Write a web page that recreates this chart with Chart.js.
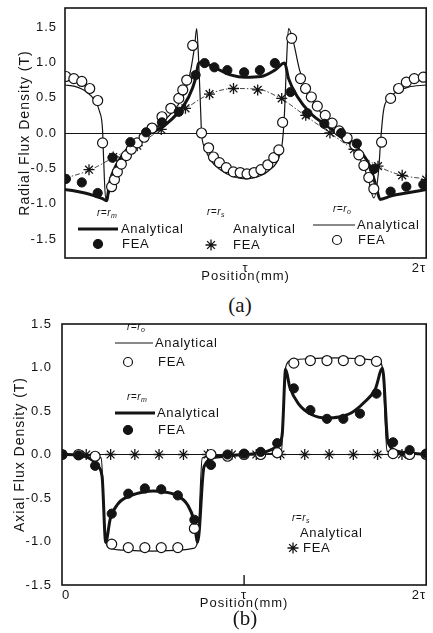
<!DOCTYPE html>
<html>
<head>
<meta charset="utf-8">
<script src="https://cdn.jsdelivr.net/npm/chart.js@4.4.1/dist/chart.umd.min.js"></script>
<style>
  html, body { margin: 0; padding: 0; background: #fff; }
  body { width: 433px; height: 633px; position: relative; overflow: hidden; }
  .panel { position: absolute; left: 0; width: 433px; }
  .caption { position: absolute; width: 60px; text-align: center; line-height: 24px;
             font-family: "Liberation Serif", "DejaVu Serif", serif; font-size: 21px; color: #141414; }
</style>
</head>
<body>
<div class="panel" style="top:0;height:292px"><canvas id="radial"></canvas></div>
<div class="caption" style="left:210px;top:293px">(a)</div>
<div class="panel" style="top:300px;height:318px"><canvas id="axial"></canvas></div>
<div class="caption" style="left:215px;top:606px">(b)</div>
<script>
// positions are in units of the pole pitch tau, flux density in tesla
const yTicks = [-1.5, -1.0, -0.5, 0.0, 0.5, 1.0, 1.5];
const xTicks = [0, 1, 2];
const xTickLabelsA = ['', 'τ', '2τ'];
const xTickLabelsB = ['0', 'τ', '2τ'];

// (a) radial flux density
const posRmLineA = [0, 0.055, 0.11, 0.164, 0.208, 0.23, 0.247, 0.285, 0.34, 0.411, 0.482, 0.548, 0.63, 0.685, 0.723, 0.74, 0.756, 0.833, 0.921, 0.997, 1.085, 1.162, 1.216, 1.238, 1.288, 1.359, 1.468, 1.55, 1.625, 1.688, 1.722, 1.745, 1.808, 1.89, 2.0];
const radRmLineA = [-0.80, -0.82, -0.85, -0.89, -0.93, -0.96, -0.70, -0.45, -0.24, -0.10, 0.01, 0.10, 0.30, 0.51, 0.77, 0.99, 1.00, 0.92, 0.82, 0.79, 0.80, 0.89, 0.99, 0.77, 0.51, 0.28, 0.07, -0.10, -0.23, -0.47, -0.75, -0.94, -0.89, -0.85, -0.80];

const posRmDotA = [0.005, 0.093, 0.181, 0.263, 0.362, 0.449, 0.537, 0.630, 0.723, 0.773, 0.827, 0.899, 0.992, 1.079, 1.162, 1.249, 1.342, 1.436, 1.529, 1.616, 1.710, 1.803, 1.890, 1.984];
const radRmDotA = [-0.65, -0.70, -0.85, -0.35, -0.13, 0.01, 0.15, 0.30, 0.82, 0.99, 0.93, 0.89, 0.86, 0.89, 0.99, 0.58, 0.28, 0.13, 0.00, -0.15, -0.51, -0.83, -0.76, -0.73];

const posRsA = [0, 0.133, 0.267, 0.4, 0.533, 0.667, 0.8, 0.933, 1.067, 1.2, 1.333, 1.467, 1.6, 1.733, 1.867, 2.0];
const radRsLineA = [-0.64, -0.53, -0.35, -0.17, 0.06, 0.34, 0.55, 0.63, 0.62, 0.48, 0.24, 0.00, -0.24, -0.47, -0.60, -0.65];
const radRsStarA = [-0.65, -0.52, -0.34, -0.18, 0.05, 0.35, 0.55, 0.63, 0.61, 0.49, 0.25, 0.00, -0.23, -0.47, -0.60, -0.66];

const posRoLineA = [0, 0.055, 0.121, 0.164, 0.192, 0.208, 0.214, 0.225, 0.247, 0.274, 0.312, 0.367, 0.438, 0.521, 0.603, 0.658, 0.696, 0.718, 0.729, 0.740, 0.751, 0.756, 0.773, 0.805, 0.860, 0.932, 1.003, 1.068, 1.134, 1.184, 1.205, 1.216, 1.227, 1.238, 1.260, 1.299, 1.342, 1.408, 1.479, 1.551, 1.605, 1.644, 1.677, 1.710, 1.737, 1.748, 1.764, 1.792, 1.836, 1.901, 2.0];
const radRoLineA = [0.68, 0.66, 0.58, 0.46, 0.30, 0.04, -0.38, -0.93, -0.83, -0.63, -0.42, -0.24, -0.08, 0.11, 0.32, 0.54, 0.89, 1.24, 1.48, 1.03, 0.32, 0.00, -0.20, -0.38, -0.52, -0.62, -0.65, -0.62, -0.52, -0.35, -0.10, 0.32, 1.03, 1.48, 1.34, 0.89, 0.58, 0.32, 0.07, -0.10, -0.24, -0.42, -0.63, -0.92, -0.52, -0.10, 0.32, 0.49, 0.58, 0.65, 0.68];

const posRoDotA = [0.005, 0.049, 0.093, 0.137, 0.181, 0.208, 0.258, 0.274, 0.290, 0.312, 0.340, 0.367, 0.400, 0.438, 0.482, 0.537, 0.586, 0.630, 0.652, 0.674, 0.707, 0.756, 0.795, 0.822, 0.855, 0.893, 0.932, 0.970, 1.008, 1.047, 1.085, 1.123, 1.156, 1.184, 1.205, 1.255, 1.304, 1.332, 1.364, 1.397, 1.441, 1.479, 1.518, 1.562, 1.605, 1.627, 1.655, 1.682, 1.710, 1.753, 1.803, 1.847, 1.890, 1.934, 1.984];
const radRoDotA = [0.80, 0.77, 0.73, 0.63, 0.46, -0.14, -0.76, -0.66, -0.55, -0.44, -0.32, -0.23, -0.14, -0.06, 0.07, 0.23, 0.35, 0.49, 0.61, 0.75, 1.24, 0.00, -0.21, -0.34, -0.42, -0.49, -0.55, -0.56, -0.58, -0.56, -0.52, -0.45, -0.35, -0.24, 0.15, 1.34, 0.77, 0.63, 0.51, 0.38, 0.25, 0.14, 0.03, -0.07, -0.17, -0.31, -0.46, -0.63, -0.79, -0.13, 0.49, 0.63, 0.72, 0.77, 0.79];

// (b) axial flux density
const posRmLineB = [0, 0.10, 0.17, 0.195, 0.22, 0.24, 0.265, 0.31, 0.38, 0.45, 0.50, 0.56, 0.63, 0.69, 0.725, 0.745, 0.78, 0.85, 1.0, 1.10, 1.17, 1.195, 1.21, 1.228, 1.25, 1.30, 1.37, 1.45, 1.52, 1.59, 1.66, 1.72, 1.76, 1.79, 1.86, 2.0];
const axRmLineB = [0, -0.01, -0.07, -0.13, -0.25, -1.01, -0.74, -0.56, -0.47, -0.43, -0.42, -0.43, -0.47, -0.58, -0.76, -1.01, -0.14, -0.03, 0, 0.02, 0.08, 0.13, 0.25, 0.98, 0.78, 0.58, 0.46, 0.42, 0.43, 0.48, 0.60, 0.75, 0.99, 0.14, 0.03, 0];

const posRoLineB = [0, 0.15, 0.215, 0.24, 0.265, 0.35, 0.50, 0.65, 0.72, 0.745, 0.77, 0.85, 1.0, 1.15, 1.205, 1.228, 1.255, 1.35, 1.50, 1.65, 1.73, 1.76, 1.785, 1.85, 2.0];
const axRoLineB = [0, -0.01, -0.04, -1.00, -1.08, -1.10, -1.11, -1.10, -1.08, -1.00, -0.04, -0.01, 0, 0.01, 0.04, 1.00, 1.08, 1.10, 1.11, 1.10, 1.08, 1.00, 0.04, 0.01, 0];

const posDotB = [0, 0.091, 0.182, 0.273, 0.364, 0.455, 0.545, 0.636, 0.727, 0.818, 0.909, 1.0, 1.091, 1.182, 1.273, 1.364, 1.455, 1.545, 1.636, 1.727, 1.818, 1.909, 2.0];
const axRmDotB = [0.00, -0.01, -0.13, -0.68, -0.45, -0.39, -0.40, -0.47, -0.75, -0.12, 0.00, 0.01, 0.03, 0.13, 0.76, 0.51, 0.41, 0.41, 0.47, 0.70, 0.14, 0.05, 0.01];
const axRoDotB = [0.00, 0.00, -0.02, -1.03, -1.07, -1.07, -1.07, -1.07, -0.85, 0.00, -0.02, 0.00, 0.00, 0.02, 1.05, 1.08, 1.08, 1.08, 1.08, 1.07, 0.01, 0.00, 0.00];

const posRsB = [0, 0.133, 0.267, 0.4, 0.533, 0.667, 0.8, 0.933, 1.067, 1.2, 1.333, 1.467, 1.6, 1.733, 1.867, 2.0];
const axRsStarB = [0, 0, 0, 0, 0, 0, 0, 0, 0, 0, 0, 0, 0, 0, 0, 0];
const posRsLineB = [0, 2];
const axRsLineB = [0, 0];

const INK = '#141414';
const FONT = '"Liberation Sans", Arial, sans-serif';

function pts(xs, ys) { return xs.map((x, i) => ({ x: x, y: ys[i] })); }

function lineSet(label, xs, ys, width, dash, color) {
  return {
    label: label, data: pts(xs, ys), showLine: true, fill: false,
    borderColor: color || INK, borderWidth: width, borderDash: dash || [],
    pointRadius: 0, cubicInterpolationMode: 'monotone'
  };
}

function markSet(label, xs, ys, kind) {
  const base = { label: label, data: pts(xs, ys), showLine: false, pointBorderColor: INK };
  if (kind === 'dot') {
    return Object.assign(base, { pointStyle: 'circle', pointRadius: 4.6, pointBackgroundColor: INK, pointBorderWidth: 1 });
  }
  if (kind === 'open') {
    return Object.assign(base, { pointStyle: 'circle', pointRadius: 5, pointBackgroundColor: '#fff', pointBorderWidth: 1.2 });
  }
  return Object.assign(base, { pointStyle: 'star', pointRadius: 5.5, pointBackgroundColor: INK, pointBorderWidth: 1.3 });
}

function drawMark(ctx, kind, x, y) {
  ctx.beginPath();
  if (kind === 'star') {
    const r = 5.5, d = r * Math.SQRT1_2;
    ctx.lineWidth = 1.3;
    ctx.moveTo(x - r, y); ctx.lineTo(x + r, y);
    ctx.moveTo(x, y - r); ctx.lineTo(x, y + r);
    ctx.moveTo(x - d, y - d); ctx.lineTo(x + d, y + d);
    ctx.moveTo(x - d, y + d); ctx.lineTo(x + d, y - d);
    ctx.stroke();
    return;
  }
  ctx.arc(x, y, 4.5, 0, Math.PI * 2);
  ctx.fillStyle = kind === 'dot' ? INK : '#fff';
  ctx.fill();
  ctx.lineWidth = 1.2;
  ctx.stroke();
  ctx.fillStyle = INK;
}

// box round the plot area, plus an inward tick at tau when asked
const framePlugin = {
  id: 'frame',
  beforeDraw(chart) { chart.ctx.letterSpacing = '1px'; },
  afterDatasetsDraw(chart, args, opts) {
    const ctx = chart.ctx, a = chart.chartArea;
    ctx.save();
    ctx.strokeStyle = INK;
    ctx.lineWidth = 1.6;
    ctx.strokeRect(a.left, a.top, a.right - a.left, a.bottom - a.top);
    if (opts.midTick) {
      const x = chart.scales.x.getPixelForValue(1);
      ctx.lineWidth = 1.4;
      ctx.beginPath();
      ctx.moveTo(x, a.bottom);
      ctx.lineTo(x, a.bottom - 10);
      ctx.stroke();
    }
    ctx.restore();
  }
};

// the three r = r_x key blocks drawn inside the plot
const keyPlugin = {
  id: 'key',
  afterDraw(chart, args, opts) {
    const ctx = chart.ctx;
    ctx.save();
    ctx.fillStyle = INK;
    ctx.strokeStyle = INK;
    ctx.textAlign = 'left';
    ctx.textBaseline = 'middle';
    for (const k of opts.items) {
      ctx.letterSpacing = '0.5px';
      ctx.font = 'italic 10px ' + FONT;
      ctx.fillText('r=r', k.rx, k.ry);
      const w = ctx.measureText('r=r').width;
      ctx.font = 'italic 7px ' + FONT;
      ctx.fillText(k.sub, k.rx + w, k.ry + 3);
      if (k.line) {
        ctx.lineWidth = k.line[3];
        ctx.beginPath();
        ctx.moveTo(k.line[0], k.line[2]);
        ctx.lineTo(k.line[1], k.line[2]);
        ctx.stroke();
      }
      ctx.letterSpacing = '0.7px';
      ctx.font = '13px ' + FONT;
      ctx.fillText('Analytical', k.ax, k.ay);
      ctx.fillText('FEA', k.fx, k.fy);
      drawMark(ctx, k.mark, k.mx, k.fy);
    }
    ctx.restore();
  }
};

function panel(id, o) {
  return new Chart(document.getElementById(id), {
    type: 'scatter',
    data: { datasets: o.datasets },
    options: {
      responsive: true,
      maintainAspectRatio: false,
      animation: false,
      events: [],
      layout: { padding: { top: o.top, right: 3, left: 0, bottom: 0 } },
      plugins: {
        legend: { display: false },
        tooltip: { enabled: false },
        frame: { midTick: o.midTick },
        key: { items: o.keys }
      },
      scales: {
        x: {
          type: 'linear', min: 0, max: 2,
          afterBuildTicks: s => { s.ticks = xTicks.map(v => ({ value: v })); },
          ticks: {
            align: 'inner', padding: 3, maxRotation: 0, autoSkip: false,
            color: INK, font: { family: FONT, size: 13 },
            callback: (v, i) => o.xLabels[i]
          },
          grid: { display: false, drawTicks: false },
          border: { display: false },
          title: {
            display: true, text: 'Position(mm)', color: INK,
            font: { family: FONT, size: 13 }, padding: { top: 0, bottom: o.xTitlePad }
          },
          afterFit: s => { s.height = o.xHeight; s.paddingLeft = 0; s.paddingRight = 0; }
        },
        y: {
          min: o.yMin, max: o.yMax,
          afterBuildTicks: s => { s.ticks = yTicks.map(v => ({ value: v })); },
          ticks: {
            padding: o.yPad, color: INK, font: { family: FONT, size: 13 },
            callback: v => v.toFixed(1)
          },
          grid: {
            drawTicks: false, lineWidth: 1,
            color: c => (o.zeroLine && c.tick && c.tick.value === 0) ? INK : 'rgba(0,0,0,0)'
          },
          border: { display: false },
          title: {
            display: true, text: o.yTitle, color: INK,
            font: { family: FONT, size: 14 }, padding: { top: o.yTitlePad, bottom: 0 }
          },
          afterFit: s => { s.width = o.yWidth; s.paddingTop = 0; s.paddingBottom = 0; }
        }
      }
    },
    plugins: [framePlugin, keyPlugin]
  });
}

panel('radial', {
  top: 8, yMin: -1.77, yMax: 1.77, yWidth: 65, yPad: 8, yTitlePad: 17,
  xHeight: 34, xTitlePad: 8, xLabels: xTickLabelsA, zeroLine: true, midTick: false,
  yTitle: 'Radial Flux Density (T)',
  datasets: [
    markSet('r=rm FEA', posRmDotA, radRmDotA, 'dot'),
    markSet('r=ro FEA', posRoDotA, radRoDotA, 'open'),
    markSet('r=rs FEA', posRsA, radRsStarA, 'star'),
    lineSet('r=rm Analytical', posRmLineA, radRmLineA, 3),
    lineSet('r=ro Analytical', posRoLineA, radRoLineA, 1.2),
    lineSet('r=rs Analytical', posRsA, radRsLineA, 0.9, [5, 2, 1.5, 2], '#333')
  ],
  keys: [
    { sub: 'm', rx: 97, ry: 213, line: [78, 118, 229, 3], ax: 121, ay: 229, mark: 'dot', mx: 98, fx: 122, fy: 244 },
    { sub: 's', rx: 207, ry: 212, line: null, ax: 233, ay: 229, mark: 'star', mx: 211, fx: 233, fy: 245 },
    { sub: 'o', rx: 333, ry: 209, line: [313, 355, 225, 1.2], ax: 357, ay: 225, mark: 'open', mx: 337, fx: 358, fy: 240 }
  ]
});

panel('axial', {
  top: 24, yMin: -1.5, yMax: 1.5, yWidth: 62, yPad: 10, yTitlePad: 12,
  xHeight: 33, xTitlePad: 7, xLabels: xTickLabelsB, zeroLine: false, midTick: true,
  yTitle: 'Axial Flux Density (T)',
  datasets: [
    markSet('r=rm FEA', posDotB, axRmDotB, 'dot'),
    markSet('r=ro FEA', posDotB, axRoDotB, 'open'),
    markSet('r=rs FEA', posRsB, axRsStarB, 'star'),
    lineSet('r=rm Analytical', posRmLineB, axRmLineB, 3),
    lineSet('r=ro Analytical', posRoLineB, axRoLineB, 1.2),
    lineSet('r=rs Analytical', posRsLineB, axRsLineB, 1.2)
  ],
  keys: [
    { sub: 'o', rx: 127, ry: 27, line: [115, 153, 43, 1.2], ax: 155, ay: 43, mark: 'open', mx: 128, fx: 158, fy: 62 },
    { sub: 'm', rx: 127, ry: 97, line: [115, 155, 113, 3], ax: 157, ay: 113, mark: 'dot', mx: 128, fx: 158, fy: 130 },
    { sub: 's', rx: 292, ry: 218, line: null, ax: 300, ay: 233, mark: 'star', mx: 293, fx: 303, fy: 248 }
  ]
});
</script>
</body>
</html>
